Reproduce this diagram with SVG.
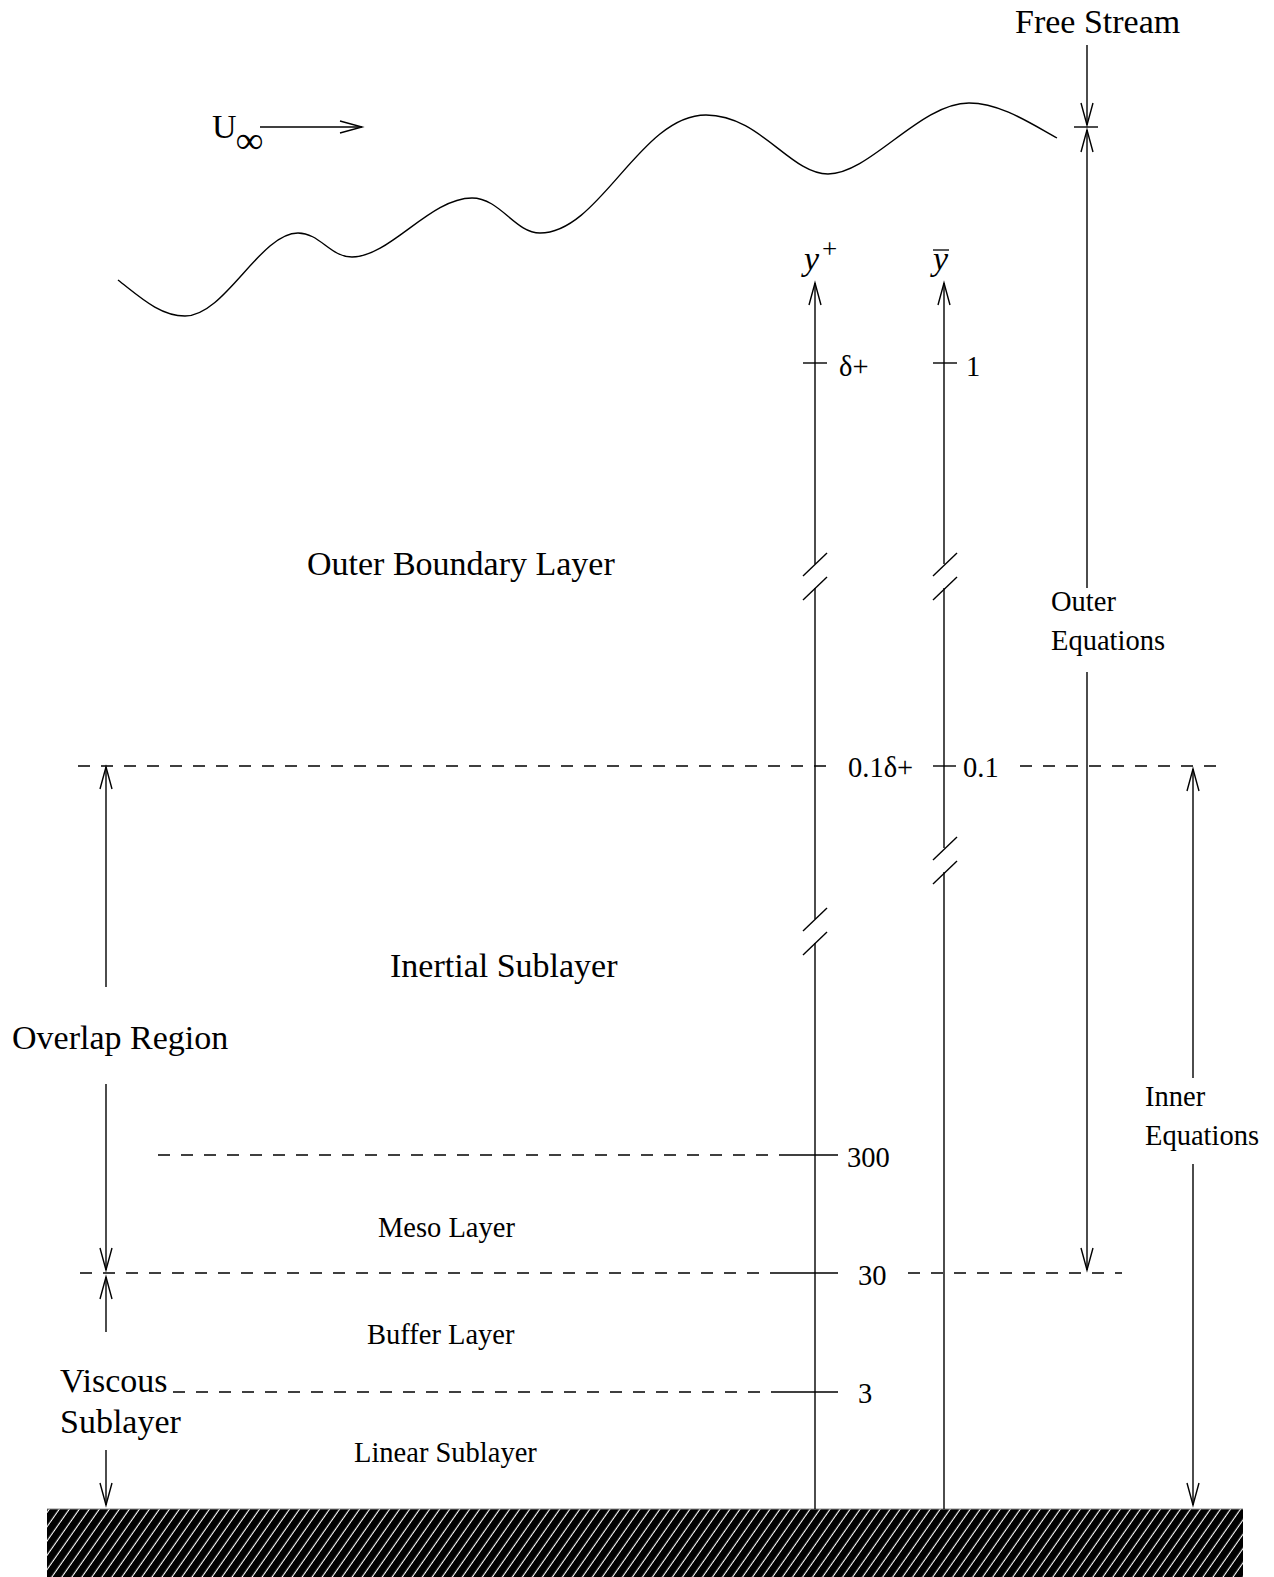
<svg xmlns="http://www.w3.org/2000/svg" width="1274" height="1577" viewBox="0 0 1274 1577">
<style>
.ln{stroke:#000;stroke-width:1.4;fill:none}
.dash{stroke:#000;stroke-width:1.4;fill:none;stroke-dasharray:12 11}
.big{font-family:"Liberation Serif","Times New Roman",serif;font-size:34px;fill:#000}
.sm{font-family:"Liberation Serif","Times New Roman",serif;font-size:28.5px;fill:#000}
.it{font-family:"Liberation Serif","Times New Roman",serif;font-style:italic;font-size:34px;fill:#000}
</style>
<defs>
<marker id="ah" markerUnits="userSpaceOnUse" markerWidth="24" markerHeight="16" viewBox="-23 -8 24 16" refX="0" refY="0" orient="auto" overflow="visible">
<path d="M-22,-6 L0,0 L-22,6" fill="none" stroke="#000" stroke-width="1.4"/>
</marker>
<pattern id="hatch" patternUnits="userSpaceOnUse" width="8.2" height="10" patternTransform="rotate(35)">
<rect width="8.2" height="10" fill="#000"/>
<line x1="4" y1="-1" x2="4" y2="11" stroke="#fff" stroke-width="1.1"/>
</pattern>
</defs>

<g id="ground">
<rect x="47" y="1509" width="1196" height="68" fill="url(#hatch)"/>
<line x1="47" y1="1509" x2="1243" y2="1509" stroke="#888" stroke-width="1"/>
</g>

<g id="free-surface">
<path class="ln" d="M118,280 C140,297 160,316 185,316 C225,316 260,233 298,233 C320,233 330,257 352,257 C390,257 430,198 472,198 C500,198 515,233 540,233 C600,233 640,115 706,115 C760,115 790,174 828,174 C870,174 920,103 969,103 C1000,103 1030,123 1057,138"/>
</g>

<g id="u-inf">
<text class="big" x="212" y="138">U</text>
<text class="big" x="236" y="153" style="font-size:38px;font-weight:bold">∞</text>
</g>

<g id="free-stream">
<text class="big" x="1015" y="33">Free Stream</text>
</g>

<g id="y-plus-axis">
<text class="it" x="804" y="270">y</text>
<text class="sm" x="822" y="258" style="font-size:27px">+</text>
</g>
<g id="y-bar-axis">
<text class="it" x="933" y="270">y</text>
<line x1="933" y1="250" x2="949" y2="250" stroke="#000" stroke-width="1.3"/>
</g>

<g id="labels">
<text class="sm" x="839" y="376">δ+</text>
<text class="sm" x="966" y="376">1</text>
<text class="sm" x="848" y="777">0.1δ+</text>
<text class="sm" x="963" y="777">0.1</text>
<text class="sm" x="847" y="1167">300</text>
<text class="sm" x="858" y="1285">30</text>
<text class="sm" x="858" y="1403">3</text>
</g>

<g id="outer-boundary-layer"><text class="big" x="307" y="575">Outer Boundary Layer</text></g>
<g id="inertial-sublayer"><text class="big" x="390" y="977">Inertial Sublayer</text></g>
<g id="overlap-region"><text class="big" x="12" y="1049">Overlap Region</text></g>
<g id="meso-layer"><text class="sm" x="378" y="1237">Meso Layer</text></g>
<g id="buffer-layer"><text class="sm" x="367" y="1344">Buffer Layer</text></g>
<g id="linear-sublayer"><text class="sm" x="354" y="1462">Linear Sublayer</text></g>
<g id="viscous-sublayer"><text class="big" x="60" y="1392">Viscous</text><text class="big" x="60" y="1433">Sublayer</text></g>
<g id="outer-equations"><text class="sm" x="1051" y="611">Outer</text><text class="sm" x="1051" y="650">Equations</text></g>
<g id="inner-equations"><text class="sm" x="1145" y="1106">Inner</text><text class="sm" x="1145" y="1145">Equations</text></g>

<g id="connectors">
<line class="ln" x1="260" y1="127" x2="362" y2="127" marker-end="url(#ah)"/>
<line class="ln" x1="1087" y1="45" x2="1087" y2="125" marker-end="url(#ah)"/>
<line class="ln" x1="1074" y1="127" x2="1098" y2="127"/>
<line class="ln" x1="1087" y1="588" x2="1087" y2="130" marker-end="url(#ah)"/>
<line class="ln" x1="1087" y1="672" x2="1087" y2="1270" marker-end="url(#ah)"/>
<line class="ln" x1="1193" y1="1078" x2="1193" y2="769" marker-end="url(#ah)"/>
<line class="ln" x1="1193" y1="1164" x2="1193" y2="1505" marker-end="url(#ah)"/>
<line class="ln" x1="106" y1="987" x2="106" y2="767" marker-end="url(#ah)"/>
<line class="ln" x1="106" y1="1084" x2="106" y2="1270" marker-end="url(#ah)"/>
<line class="ln" x1="106" y1="1332" x2="106" y2="1277" marker-end="url(#ah)"/>
<line class="ln" x1="106" y1="1450" x2="106" y2="1505" marker-end="url(#ah)"/>

<line class="ln" x1="815" y1="564" x2="815" y2="283" marker-end="url(#ah)"/>
<line class="ln" x1="815" y1="588" x2="815" y2="919"/>
<line class="ln" x1="815" y1="943" x2="815" y2="1509"/>
<line class="ln" x1="803" y1="576" x2="827" y2="553"/>
<line class="ln" x1="803" y1="600" x2="827" y2="577"/>
<line class="ln" x1="803" y1="931" x2="827" y2="908"/>
<line class="ln" x1="803" y1="955" x2="827" y2="932"/>
<line class="ln" x1="803" y1="363" x2="827" y2="363"/>

<line class="ln" x1="944" y1="564" x2="944" y2="283" marker-end="url(#ah)"/>
<line class="ln" x1="944" y1="588" x2="944" y2="848"/>
<line class="ln" x1="944" y1="872" x2="944" y2="1509"/>
<line class="ln" x1="933" y1="576" x2="957" y2="553"/>
<line class="ln" x1="933" y1="600" x2="957" y2="577"/>
<line class="ln" x1="933" y1="860" x2="957" y2="837"/>
<line class="ln" x1="933" y1="884" x2="957" y2="861"/>
<line class="ln" x1="933" y1="363" x2="957" y2="363"/>
<line class="ln" x1="933" y1="766" x2="956" y2="766"/>

<line class="dash" x1="78" y1="766" x2="836" y2="766"/>
<line class="dash" x1="1020" y1="766" x2="1217" y2="766"/>
<line class="dash" x1="158" y1="1155" x2="780" y2="1155"/>
<line class="ln" x1="780" y1="1155" x2="838" y2="1155"/>
<line class="dash" x1="80" y1="1273" x2="780" y2="1273"/>
<line class="ln" x1="780" y1="1273" x2="838" y2="1273"/>
<line class="dash" x1="908" y1="1273" x2="1122" y2="1273"/>
<line class="dash" x1="173" y1="1392" x2="780" y2="1392"/>
<line class="ln" x1="780" y1="1392" x2="838" y2="1392"/>
</g>
</svg>
